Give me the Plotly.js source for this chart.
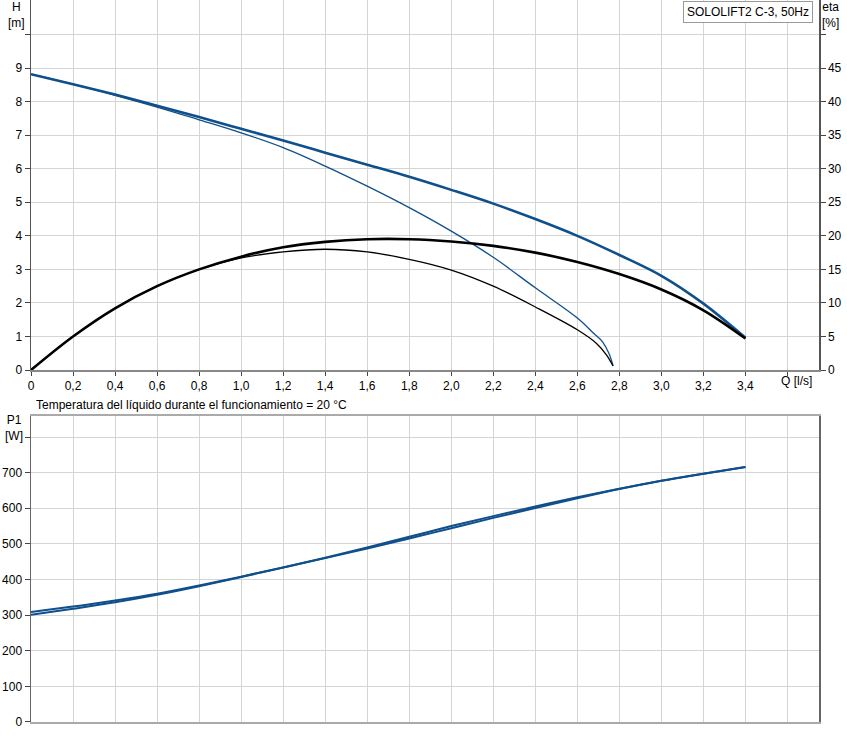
<!DOCTYPE html>
<html>
<head>
<meta charset="utf-8">
<script src="https://cdn.plot.ly/plotly-3.0.1.min.js"></script>
<style>
  body { margin: 0; background: #fff; }
  #chart { width: 847px; height: 742px; }
</style>
</head>
<body>
<div id="chart"></div>
<script>
// flow axis ticks (shared by both panels)
const qTicks = [0, 0.2, 0.4, 0.6, 0.8, 1.0, 1.2, 1.4, 1.6, 1.8, 2.0, 2.2, 2.4, 2.6, 2.8, 3.0, 3.2, 3.4, 3.6];
const qTickText = ['0', '0,2', '0,4', '0,6', '0,8', '1,0', '1,2', '1,4', '1,6', '1,8', '2,0',
  '2,2', '2,4', '2,6', '2,8', '3,0', '3,2', '3,4', ''];

const hTicks = [0, 1, 2, 3, 4, 5, 6, 7, 8, 9, 10];
const hTickText = ['0', '1', '2', '3', '4', '5', '6', '7', '8', '9', ''];
const etaTicks = [0, 5, 10, 15, 20, 25, 30, 35, 40, 45, 50];
const etaTickText = ['0', '5', '10', '15', '20', '25', '30', '35', '40', '45', ''];
const p1Ticks = [0, 100, 200, 300, 400, 500, 600, 700, 800];
const p1TickText = ['0', '100', '200', '300', '400', '500', '600', '700', ''];

// head curves [m]
const qFull = [0, 0.2, 0.4, 0.6, 0.8, 1.0, 1.2, 1.4, 1.6, 1.8, 2.0, 2.2, 2.4, 2.6, 2.8, 3.0, 3.2, 3.4];
const hFull = [8.82, 8.52, 8.21, 7.88, 7.54, 7.19, 6.84, 6.48, 6.12, 5.76, 5.37, 4.96, 4.50, 4.00, 3.43, 2.81, 1.98, 0.96];

const qShort = [0, 0.2, 0.4, 0.6, 0.8, 1.0, 1.2, 1.4, 1.6, 1.8, 2.0, 2.2, 2.4, 2.6, 2.68, 2.72, 2.75, 2.77];
const hShort = [8.82, 8.52, 8.19, 7.84, 7.46, 7.07, 6.63, 6.08, 5.48, 4.84, 4.14, 3.36, 2.45, 1.55, 1.08, 0.84, 0.50, 0.13];

// efficiency curves [%]
const etaFull = [0, 5.0, 9.2, 12.5, 15.0, 16.9, 18.3, 19.1, 19.5, 19.5, 19.15, 18.5, 17.5, 16.1, 14.3, 12.0, 8.9, 4.7];
const qEtaShort = [0, 0.2, 0.4, 0.6, 0.8, 1.0, 1.2, 1.4, 1.6, 1.8, 2.0, 2.2, 2.4, 2.6, 2.69, 2.74, 2.77];
const etaShort = [0, 5.0, 9.2, 12.5, 15.0, 16.7, 17.6, 18.0, 17.6, 16.5, 14.9, 12.5, 9.4, 6.0, 4.0, 2.2, 0.6];

// power input curves [W]
const p1A = [309, 324, 341, 360, 383, 408, 434, 461, 490, 520, 550, 578, 605, 631, 655, 677, 697, 716];
const p1B = [301, 318, 336, 357, 381, 407, 434, 460, 487, 515, 544, 573, 601, 628, 654, 677, 697, 716];

const blue = '#0f4f8c';
const sm = 1.0;

const traces = [
  { x: qShort, y: hShort, xaxis: 'x', yaxis: 'y', mode: 'lines', line: { color: blue, width: 1.3, shape: 'spline', smoothing: sm } },
  { x: qFull, y: hFull, xaxis: 'x', yaxis: 'y', mode: 'lines', line: { color: blue, width: 2.6, shape: 'spline', smoothing: sm } },
  { x: qEtaShort, y: etaShort, xaxis: 'x', yaxis: 'y2', mode: 'lines', line: { color: '#000', width: 1.3, shape: 'spline', smoothing: sm } },
  { x: qFull, y: etaFull, xaxis: 'x', yaxis: 'y2', mode: 'lines', line: { color: '#000', width: 2.6, shape: 'spline', smoothing: sm } },
  { x: qFull, y: p1A, xaxis: 'x2', yaxis: 'y3', mode: 'lines', line: { color: blue, width: 2, shape: 'spline', smoothing: sm } },
  { x: qFull, y: p1B, xaxis: 'x2', yaxis: 'y3', mode: 'lines', line: { color: blue, width: 2, shape: 'spline', smoothing: sm } }
];

const grid = '#d4d4d4';

const layout = {
  width: 847,
  height: 742,
  margin: { l: 31, r: 28, t: 0, b: 20 },
  paper_bgcolor: '#fff',
  plot_bgcolor: '#fff',
  showlegend: false,
  font: { family: 'Liberation Sans, Arial, sans-serif', size: 12, color: '#000' },
  xaxis: {
    domain: [0, 1], anchor: 'y', range: [0, 3.75],
    tickvals: qTicks, ticktext: qTickText, ticks: 'outside', ticklen: 4, tickcolor: '#444',
    showgrid: true, gridcolor: grid, zeroline: false,
    showline: true, linecolor: '#888', linewidth: 2
  },
  yaxis: {
    domain: [0.4875, 1], anchor: 'x', range: [0, 11.03],
    tickvals: hTicks, ticktext: hTickText, ticks: 'outside', ticklen: 5, tickcolor: '#444',
    showgrid: true, gridcolor: grid, zeroline: false,
    showline: true, linecolor: '#555', linewidth: 1.5
  },
  yaxis2: {
    overlaying: 'y', side: 'right', anchor: 'x', range: [0, 55.15],
    tickvals: etaTicks, ticktext: etaTickText, ticks: 'outside', ticklen: 5, tickcolor: '#444',
    showgrid: false, zeroline: false,
    showline: true, linecolor: '#555', linewidth: 1.5
  },
  xaxis2: {
    domain: [0, 1], anchor: 'y3', range: [0, 3.75],
    tickvals: qTicks, showticklabels: false, ticks: '',
    showgrid: true, gridcolor: grid, zeroline: false,
    showline: true, linecolor: '#aaa', linewidth: 2, mirror: true
  },
  yaxis3: {
    domain: [0, 0.4238], anchor: 'x2', range: [0, 859],
    tickvals: p1Ticks, ticktext: p1TickText, ticks: 'outside', ticklen: 5, tickcolor: '#444',
    showgrid: true, gridcolor: grid, zeroline: false,
    showline: true, linecolor: '#666', linewidth: 1.5, mirror: true
  },
  annotations: [
    { text: 'H<br>[m]', xref: 'paper', yref: 'paper', x: -0.0178, y: 1.003, xanchor: 'center', yanchor: 'top', showarrow: false },
    { text: 'eta<br>[%]', xref: 'paper', yref: 'paper', x: 1.014, y: 1.003, xanchor: 'center', yanchor: 'top', showarrow: false },
    { text: 'SOLOLIFT2 C-3, 50Hz', xref: 'paper', yref: 'paper', x: 0.9925, y: 0.9985, xanchor: 'right', yanchor: 'top',
      showarrow: false, bordercolor: '#999', borderwidth: 1, borderpad: 3, bgcolor: '#fff' },
    { text: 'Q [l/s]', xref: 'paper', yref: 'paper', x: 0.972, y: 0.4725, xanchor: 'center', yanchor: 'middle', showarrow: false },
    { text: 'Temperatura del líquido durante el funcionamiento = 20 °C', xref: 'paper', yref: 'paper',
      x: 0.004, y: 0.4392, xanchor: 'left', yanchor: 'middle', showarrow: false },
    { text: 'P1<br>[W]', xref: 'paper', yref: 'paper', x: -0.0215, y: 0.4305, xanchor: 'center', yanchor: 'top', showarrow: false }
  ]
};

Plotly.newPlot('chart', traces, layout, { staticPlot: true, displayModeBar: false });
</script>
</body>
</html>
